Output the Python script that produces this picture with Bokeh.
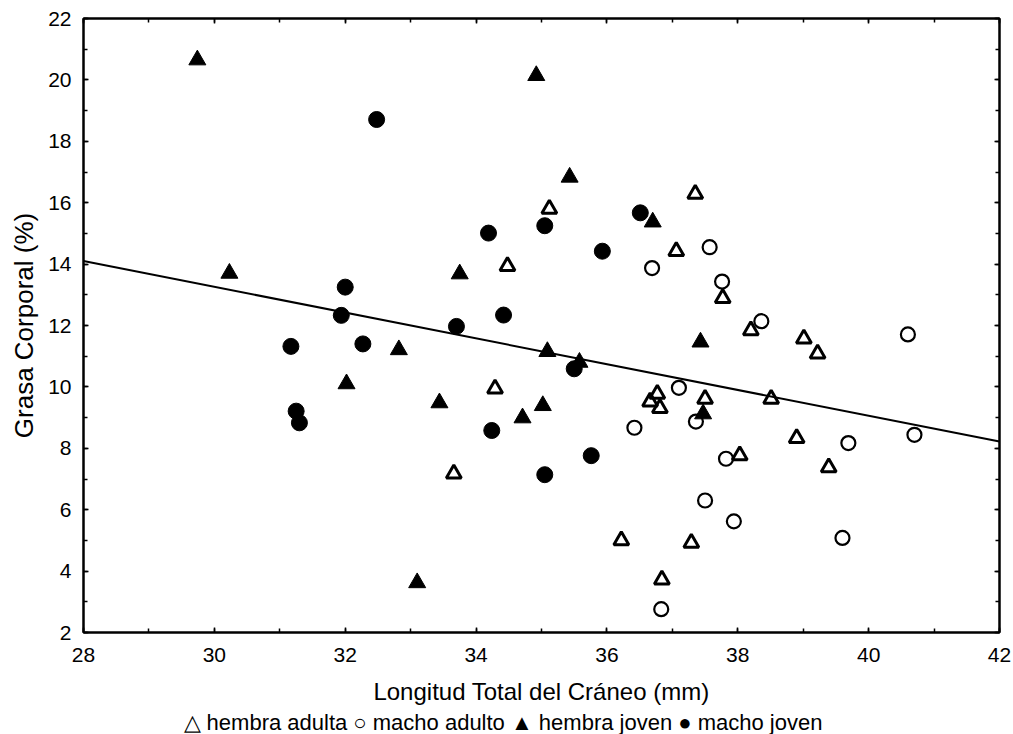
from bokeh.plotting import figure
from bokeh.models import Range1d, LinearAxis, SingleIntervalTicker, Title
from bokeh.embed import file_html
from bokeh.resources import INLINE

# hembra adulta (open triangles)
ha_x = [35.12, 34.48, 37.35, 37.06, 37.77, 38.20, 39.01, 39.22, 34.29, 33.66, 36.77,
        36.66, 36.81, 36.22, 36.84, 37.50, 38.51, 38.90, 38.03, 39.39, 37.29]
ha_y = [15.80, 13.93, 16.29, 14.42, 12.89, 11.84, 11.57, 11.08, 9.94, 7.17, 9.77,
        9.52, 9.31, 5.00, 3.72, 9.61, 9.61, 8.33, 7.77, 7.38, 4.92]

# macho adulto (open circles)
ma_x = [36.69, 37.57, 37.76, 38.36, 40.60, 36.42, 37.10, 36.83, 37.36, 39.69, 40.70,
        37.82, 37.50, 37.94, 39.60]
ma_y = [13.87, 14.55, 13.43, 12.14, 11.71, 8.67, 9.97, 2.76, 8.87, 8.17, 8.44,
        7.66, 6.30, 5.62, 5.08]

# hembra joven (filled triangles)
hj_x = [29.74, 34.92, 35.43, 36.70, 33.75, 30.23, 37.43, 32.82, 35.09, 35.58, 33.44,
        35.02, 34.71, 33.10, 32.02, 37.47]
hj_y = [20.65, 20.14, 16.83, 15.37, 13.68, 13.70, 11.46, 11.21, 11.15, 10.80, 9.48,
        9.39, 8.99, 3.62, 10.10, 9.12]

# macho joven (filled circles)
mj_x = [32.48, 35.05, 34.19, 36.51, 35.93, 32.00, 31.94, 33.70, 34.42, 31.17, 32.27,
        35.50, 34.24, 35.05, 35.76, 31.25, 31.30]
mj_y = [18.71, 15.25, 15.01, 15.67, 14.42, 13.25, 12.33, 11.97, 12.34, 11.32, 11.40,
        10.59, 8.58, 7.14, 7.76, 9.21, 8.83]

# regression line end points
fit_x = [28, 42]
fit_y = [14.10, 8.22]

x_label = "Longitud Total del Cráneo (mm)"
y_label = "Grasa Corporal (%)"
legend_text = "△ hembra adulta ○ macho adulto ▲ hembra joven ● macho joven"

FONT = "Liberation Sans"

p = figure(width=1013, height=734, output_backend="svg", toolbar_location=None,
           x_range=Range1d(28, 42), y_range=Range1d(2, 22),
           min_border_left=83, min_border_right=14, min_border_top=18,
           min_border_bottom=102, x_axis_label=x_label, y_axis_label=y_label)
p.xgrid.grid_line_color = None
p.ygrid.grid_line_color = None
p.outline_line_color = "black"
p.outline_line_width = 2
p.background_fill_color = "white"
p.border_fill_color = "white"


def style_axis(ax, show_labels=True):
    ax.axis_line_color = "black"
    ax.axis_line_width = 2
    ax.major_tick_line_color = "black"
    ax.minor_tick_line_color = "black"
    ax.major_tick_line_width = 1.5
    ax.minor_tick_line_width = 1.5
    ax.major_tick_in = 5
    ax.major_tick_out = 0
    ax.minor_tick_in = 4
    ax.minor_tick_out = 0
    ax.major_label_text_font = FONT
    ax.major_label_text_color = "black"
    ax.axis_label_text_font = FONT
    ax.axis_label_text_font_style = "normal"
    ax.axis_label_text_color = "black"
    if show_labels:
        ax.major_label_text_font_size = "21px"
    else:
        ax.major_label_text_color = None
        ax.major_label_text_font_size = "1px"
        ax.major_label_standoff = 0


p.xaxis.ticker = SingleIntervalTicker(interval=2, num_minor_ticks=2)
p.yaxis.ticker = SingleIntervalTicker(interval=2, num_minor_ticks=2)
for ax in p.xaxis:
    style_axis(ax)
    ax.axis_label_text_font_size = "24px"
    ax.major_label_standoff = 15
    ax.axis_label_standoff = 13
for ax in p.yaxis:
    style_axis(ax)
    ax.axis_label_text_font_size = "26px"
    ax.major_label_standoff = 12
    ax.axis_label_standoff = 6

top = LinearAxis(ticker=SingleIntervalTicker(interval=2, num_minor_ticks=2))
right = LinearAxis(ticker=SingleIntervalTicker(interval=2, num_minor_ticks=2))
style_axis(top, show_labels=False)
style_axis(right, show_labels=False)
p.add_layout(top, "above")
p.add_layout(right, "right")

p.line(fit_x, fit_y, line_color="black", line_width=2)

p.scatter(ha_x, ha_y, marker="triangle", size=15, fill_color=None,
          line_color="black", line_width=3)
p.scatter(ma_x, ma_y, marker="circle", size=14, fill_color=None,
          line_color="black", line_width=2.2)
p.scatter(hj_x, hj_y, marker="triangle", size=17, fill_color="black",
          line_color="black", line_width=1)
p.scatter(mj_x, mj_y, marker="circle", size=16, fill_color="black",
          line_color="black", line_width=1)

legend = Title(text=legend_text, align="left", offset=100, standoff=0,
               text_font=FONT, text_font_size="22px", text_font_style="normal",
               text_color="black")
p.add_layout(legend, "below")

open("out.html", "w").write(file_html(p, INLINE))
